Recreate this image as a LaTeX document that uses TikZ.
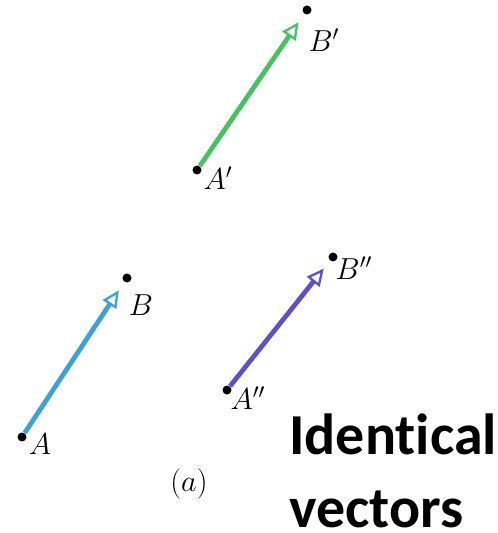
\documentclass[tikz,border=0pt]{standalone}
\usepackage{amsmath}
\usepackage{fontspec}
\newfontfamily\calfont[Ligatures=NoCommon]{Carlito}
\usetikzlibrary{arrows.meta, positioning}

\definecolor{vecgreen}{RGB}{70,195,95}
\definecolor{vecblue}{RGB}{60,160,220}
\definecolor{vecpurple}{RGB}{95,80,200}

\begin{document}
\begin{tikzpicture}[x=0.02cm, y=-0.02cm]
                \useasboundingbox (0,0) rectangle (497,533);

                % Points
                \node[circle, fill=black, inner sep=0pt, minimum size=0.18cm] (a1) at (197,170) {};
                \node[circle, fill=black, inner sep=0pt, minimum size=0.18cm] (b1) at (307,10) {};
                \node[circle, fill=black, inner sep=0pt, minimum size=0.18cm] (a) at (22,437) {};
                \node[circle, fill=black, inner sep=0pt, minimum size=0.18cm] (b) at (127,278) {};
                \node[circle, fill=black, inner sep=0pt, minimum size=0.18cm] (a2) at (227,390) {};
                \node[circle, fill=black, inner sep=0pt, minimum size=0.18cm] (b2) at (333,257) {};

                % Labels
                \node[font=\fontsize{17}{19}\selectfont] (la1) at (218,178) {$A'$};
                \node[font=\fontsize{17}{19}\selectfont] (lb1) at (324,40) {$B'$};
                \node[font=\fontsize{17}{19}\selectfont] (la) at (40,444) {$A$};
                \node[font=\fontsize{17}{19}\selectfont] (lb) at (141,305) {$B$};
                \node[font=\fontsize{17}{19}\selectfont] (la2) at (248,398) {$A''$};
                \node[font=\fontsize{17}{19}\selectfont] (lb2) at (354,268) {$B''$};
                \node[font=\fontsize{17}{19}\selectfont] (cap) at (189,484) {$(a)$};

                % Vectors
                \draw[-{Triangle[open, length=0.34cm, width=0.32cm, line width=1.3pt, fill=white]}, line width=2.7pt, vecgreen, shorten >=0.2cm] (a1) -- (b1);
                \draw[-{Triangle[open, length=0.34cm, width=0.32cm, line width=1.3pt, fill=white]}, line width=2.7pt, vecblue, shorten >=0.2cm] (a) -- (b);
                \draw[-{Triangle[open, length=0.34cm, width=0.32cm, line width=1.3pt, fill=white]}, line width=2.7pt, vecpurple, shorten >=0.2cm] (a2) -- (b2);

                % Title
                \node[font=\calfont\bfseries\fontsize{33}{41}\selectfont, align=left, anchor=base west, inner sep=0pt] (title) at (289,527) {Identical\\vectors};
            \end{tikzpicture}
\end{document}
